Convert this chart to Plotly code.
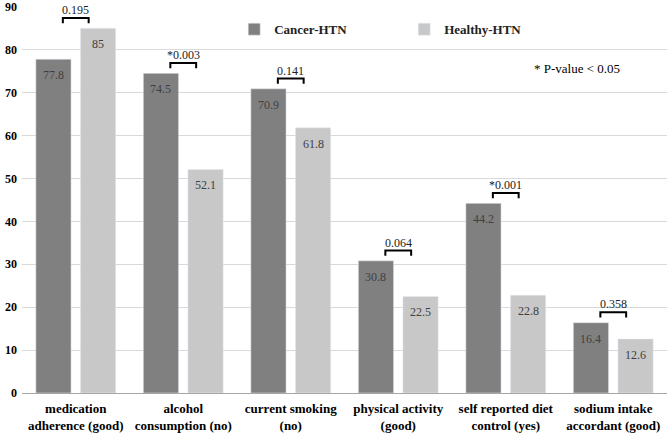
import plotly.graph_objects as go

categories = ["medication<br>adherence (good)", "alcohol<br>consumption (no)", "current smoking<br>(no)",
              "physical activity<br>(good)", "self reported diet<br>control (yes)", "sodium intake<br>accordant (good)"]
cancer_htn = [77.8, 74.5, 70.9, 30.8, 44.2, 16.4]
healthy_htn = [85, 52.1, 61.8, 22.5, 22.8, 12.6]
p_values = ["0.195", "*0.003", "0.141", "0.064", "*0.001", "0.358"]
y_ticks = [0, 10, 20, 30, 40, 50, 60, 70, 80, 90]

FONT = "Liberation Serif, Times New Roman, DejaVu Serif, serif"
DARK = "#808080"
LIGHT = "#c8c8c8"
BARGAP = 0.17
GROUPGAP = 0.21

xs = list(range(len(categories)))
fig = go.Figure()
fig.add_trace(go.Bar(name="Cancer-HTN", x=xs, y=cancer_htn, marker_color=DARK))
fig.add_trace(go.Bar(name="Healthy-HTN", x=xs, y=healthy_htn, marker_color=LIGHT))

off = (1 - BARGAP) / 4
anns = []
shapes = []
for i in xs:
    for dx, v in ((-off, cancer_htn[i]), (off, healthy_htn[i])):
        anns.append(dict(x=i + dx, y=v, text=f"{v:g}", showarrow=False, yanchor="top", yshift=-7,
                         font=dict(family=FONT, size=12, color="#404040")))
    top = max(cancer_htn[i], healthy_htn[i]) + 2.4
    x0, x1 = i - 0.12, i + 0.12
    shapes.append(dict(type="path", path=f"M {x0} {top-1.2} L {x0} {top} L {x1} {top} L {x1} {top-1.2}",
                       line=dict(color="black", width=2)))
    anns.append(dict(x=i, y=top, text=p_values[i], showarrow=False, yanchor="bottom", yshift=-1,
                     font=dict(family=FONT, size=12, color="#222222")))

anns.append(dict(x=0.930, y=0.838, xref="paper", yref="paper", xanchor="right", yanchor="middle",
                 text="* P-value < 0.05", showarrow=False,
                 font=dict(family=FONT, size=13, color="black")))

fig.update_layout(
    width=669, height=434,
    margin=dict(l=22, r=2, t=6, b=41),
    paper_bgcolor="white", plot_bgcolor="white",
    barmode="group", bargap=BARGAP, bargroupgap=GROUPGAP,
    font=dict(family=FONT, color="black"),
    showlegend=True,
    legend=dict(orientation="h", x=0.329, xanchor="left", y=0.94, yanchor="middle",
                font=dict(family=FONT, size=13, weight="bold", color="#222222"),
                bgcolor="rgba(0,0,0,0)", itemwidth=30, entrywidth=125, entrywidthmode="pixels",
                tracegroupgap=0),
    annotations=anns, shapes=shapes,
    xaxis=dict(tickmode="array", tickvals=xs, ticktext=categories, range=[-0.5, 5.5],
               tickfont=dict(family=FONT, size=13, weight="bold"), showgrid=False, zeroline=False,
               showline=False, ticks="", automargin=False, ticklabelstandoff=6),
    yaxis=dict(range=[0, 90.2], tickvals=y_ticks, showgrid=True, gridcolor="#d9d9d9", gridwidth=1,
               zeroline=True, zerolinecolor="#a6a6a6", zerolinewidth=1,
               tickfont=dict(family=FONT, size=12, weight="bold"), automargin=False, ticklabelstandoff=4,
               ticklabeloverflow="allow"),
)
fig.write_html("out.html", config={"displayModeBar": False},
               post_script="document.body.style.margin='0';document.body.style.padding='0';")
